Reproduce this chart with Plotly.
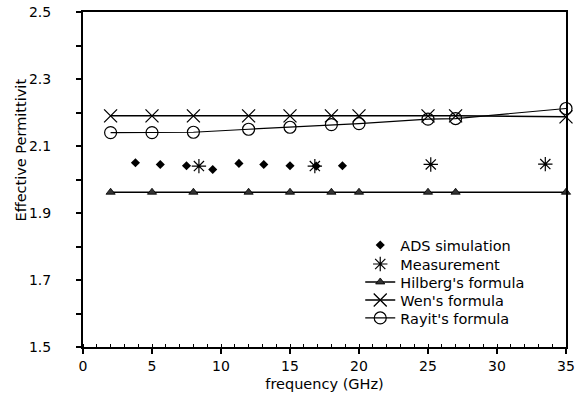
import plotly.graph_objects as go

# Data
freq_formula = [2, 5, 8, 12, 15, 18, 20, 25, 27, 35]
hilberg = [1.962, 1.962, 1.962, 1.962, 1.962, 1.962, 1.962, 1.962, 1.962, 1.962]
wen = [2.19, 2.19, 2.19, 2.19, 2.19, 2.19, 2.19, 2.19, 2.19, 2.187]
rayit = [2.14, 2.14, 2.141, 2.15, 2.156, 2.164, 2.167, 2.18, 2.182, 2.212]

freq_ads = [3.8, 5.6, 7.5, 9.4, 11.3, 13.1, 15.0, 16.9, 18.8]
ads = [2.05, 2.045, 2.041, 2.03, 2.048, 2.045, 2.041, 2.04, 2.041]

freq_meas = [8.4, 16.8, 25.2, 33.5]
meas = [2.04, 2.04, 2.045, 2.046]

y_tick_vals = [1.5, 1.7, 1.9, 2.1, 2.3, 2.5]
y_tick_text = ["1.5", "1.7", "1.9", "2.1", "2.3", "2.5"]
x_tick_vals = [0, 5, 10, 15, 20, 25, 30, 35]

FONT = "DejaVu Sans"

fig = go.Figure()
fig.add_trace(go.Scatter(
    x=freq_ads, y=ads, mode="markers", name="ADS simulation", legend="legend",
    marker=dict(symbol="diamond", size=7, color="black"), cliponaxis=False))
fig.add_trace(go.Scatter(
    x=freq_meas, y=meas, mode="markers", name="Measurement", legend="legend2",
    marker=dict(symbol="asterisk-open", size=12, color="black",
                line=dict(width=1.2, color="black")), cliponaxis=False))
fig.add_trace(go.Scatter(
    x=freq_formula, y=hilberg, mode="lines+markers", name="Hilberg's formula",
    legend="legend3",
    line=dict(color="black", width=1.5),
    marker=dict(symbol="triangle-up", size=8, color="#333333",
                line=dict(width=0.8, color="black")), cliponaxis=False))
fig.add_trace(go.Scatter(
    x=freq_formula, y=wen, mode="lines+markers", name="Wen's formula",
    legend="legend4",
    line=dict(color="black", width=1.5),
    marker=dict(symbol="x-thin-open", size=13, color="black",
                line=dict(width=1.3, color="black")), cliponaxis=False))
fig.add_trace(go.Scatter(
    x=freq_formula, y=rayit, mode="lines+markers", name="Rayit's formula",
    legend="legend5",
    line=dict(color="black", width=1.2),
    marker=dict(symbol="circle-open", size=12, color="black",
                line=dict(width=1.2, color="black")), cliponaxis=False))

legend_rows_y = [0.3042, 0.2475, 0.1939, 0.1402, 0.0865]


def legend_box(y):
    return dict(x=0.574, y=y, xanchor="left", yanchor="middle",
                bgcolor="rgba(0,0,0,0)", font=dict(family=FONT, size=14.5),
                itemsizing="trace", borderwidth=0)


fig.update_layout(
    width=587, height=408,
    margin=dict(l=83, r=21, t=12, b=61),
    paper_bgcolor="white", plot_bgcolor="white",
    font=dict(family=FONT, size=14, color="black"),
    showlegend=True,
    legend=legend_box(legend_rows_y[0]),
    legend2=legend_box(legend_rows_y[1]),
    legend3=legend_box(legend_rows_y[2]),
    legend4=legend_box(legend_rows_y[3]),
    legend5=legend_box(legend_rows_y[4]),
    xaxis=dict(range=[0, 35], tickvals=x_tick_vals, showgrid=False, zeroline=False,
               automargin=False,
               showline=True, linecolor="black", linewidth=2, mirror=True,
               ticks="outside", ticklen=5, tickwidth=1.5, tickcolor="black",
               minor=dict(dtick=1, ticks="inside", ticklen=3, tickwidth=1.2,
                          tickcolor="black", showgrid=False),
               tickfont=dict(family=FONT, size=14),
               title=dict(text="frequency (GHz)", font=dict(family=FONT, size=14.5),
                          standoff=6)),
    yaxis=dict(range=[1.5, 2.5], tickvals=y_tick_vals, ticktext=y_tick_text,
               showgrid=False, zeroline=False, automargin=False,
               showline=True, linecolor="black", linewidth=2, mirror=True,
               ticks="outside", ticklen=5, tickwidth=1.5, tickcolor="black",
               minor=dict(dtick=0.1, tick0=1.5, ticks="outside", ticklen=5,
                          tickwidth=1.5, tickcolor="black", showgrid=False),
               ticklabelstandoff=22,
               tickfont=dict(family=FONT, size=14)),
    annotations=[dict(text="Effective Permittivit", xref="paper", yref="paper",
                      x=-0.1277, y=0.5875, xanchor="center", yanchor="middle",
                      textangle=-90, showarrow=False,
                      font=dict(family=FONT, size=14.5, color="black"))],
)

fig.write_html("out.html", config={"displayModeBar": False},
               post_script="document.body.style.margin='0px';")
